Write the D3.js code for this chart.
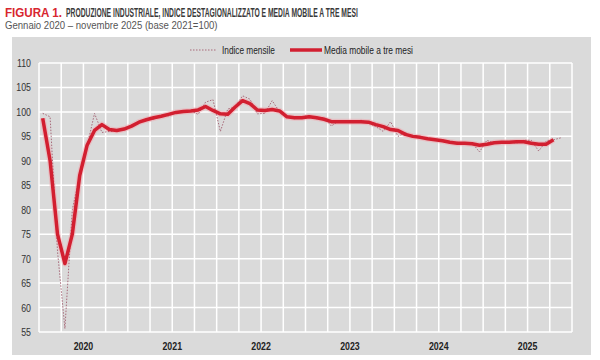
<!DOCTYPE html>
<html>
<head>
<meta charset="utf-8">
<script src="https://cdn.jsdelivr.net/npm/d3@7"></script>
<style>
  html, body { margin: 0; padding: 0; background: #ffffff; }
  svg { display: block; }
  text { font-family: "Liberation Sans", Arial, sans-serif; }
</style>
</head>
<body>
<svg id="chart" width="600" height="360"></svg>
<script>
// ---- Data ----
const years = ["2020", "2021", "2022", "2023", "2024", "2025"];
const monthsPerYear = 12;

// Indice mensile: Jan 2020 – Nov 2025
const indiceMensile = [
  99.7, 99.0, 71.5, 55.7, 80.0, 87.0, 93.0, 99.7, 95.8, 96.0, 96.0, 96.5,
  97.0, 97.6, 98.6, 98.5, 99.1, 99.2, 99.8, 100.0, 100.2, 99.5, 102.0, 102.5,
  96.0, 100.6, 101.0, 103.3, 102.6, 99.6, 99.7, 102.3, 100.0, 99.0, 98.6, 99.0,
  99.3, 98.6, 98.9, 97.1, 98.2, 98.0, 97.8, 98.3, 97.7, 97.0, 96.0, 98.0,
  95.0, 95.8, 94.8, 94.9, 94.6, 94.2, 94.3, 93.6, 93.8, 93.3, 93.7, 91.8,
  94.2, 93.6, 93.8, 93.9, 93.6, 94.2, 94.2, 92.0, 94.0, 94.3, 94.7
];

// Media mobile a tre mesi: Jan 2020 – Oct 2025
const mediaMobile = [
  98.7, 90.0, 75.0, 69.0, 75.0, 87.0, 93.2, 96.2, 97.4, 96.4, 96.2, 96.5,
  97.1, 97.9, 98.4, 98.8, 99.1, 99.5, 99.9, 100.1, 100.2, 100.4, 101.1, 100.3,
  99.6, 99.5, 101.0, 102.3, 101.7, 100.4, 100.3, 100.5, 100.2, 99.0, 98.8, 98.8,
  99.0, 98.8, 98.5, 98.0, 98.0, 98.0, 98.0, 98.0, 97.9, 97.4, 97.0, 96.4,
  96.2, 95.4, 95.0, 94.8, 94.5, 94.3, 94.1, 93.8, 93.6, 93.6, 93.5, 93.2,
  93.4, 93.7, 93.8, 93.8, 93.9, 93.9, 93.6, 93.4, 93.4, 94.3
];

const yTicks = [55, 60, 65, 70, 75, 80, 85, 90, 95, 100, 105, 110];

const titleRed = "FIGURA 1.";
const titleRest = "PRODUZIONE INDUSTRIALE, INDICE DESTAGIONALIZZATO E MEDIA MOBILE A TRE MESI";
const subtitle = "Gennaio 2020 – novembre 2025 (base 2021=100)";
const legendLabels = ["Indice mensile", "Media mobile a tre mesi"];

// ---- Helpers ----
// Places a text at (x, y) and squeezes it horizontally to the target width.
function placeScaled(sel, x, y, w) {
  const natural = sel.node().getComputedTextLength();
  sel.attr("x", 0).attr("y", 0)
    .attr("transform", `translate(${x},${y}) scale(${w / natural},1)`);
}
function condense(sel, f) {
  sel.each(function () {
    const w = this.getComputedTextLength();
    d3.select(this).attr("textLength", w * f).attr("lengthAdjust", "spacingAndGlyphs");
  });
}

// ---- Layout ----
const svg = d3.select("#chart");
const plot = { left: 39, right: 572, top: 63, bottom: 332 };

const monthKeys = years.flatMap(y => d3.range(monthsPerYear).map(m => y + "-" + (m + 1)));

const x = d3.scaleBand().domain(monthKeys).range([plot.left, plot.right]).paddingInner(0).paddingOuter(0);
const xc = k => x(k) + x.bandwidth() / 2;
const xYear = d3.scaleBand().domain(years).range([plot.left, plot.right]);
const y = d3.scaleLinear().domain([55, 110]).range([plot.bottom, plot.top]);

// Panel background
svg.append("rect")
  .attr("x", 12).attr("y", 37).attr("width", 579).attr("height", 318)
  .attr("fill", "#dadada");

// Title (two pieces)
const t1 = svg.append("text")
  .attr("font-size", 13).attr("font-weight", "bold").attr("fill", "#d8262f").text(titleRed);
placeScaled(t1, 5, 16.5, 57);
const t2 = svg.append("text")
  .attr("font-size", 13).attr("font-weight", "bold").attr("fill", "#3a3a3a").text(titleRest);
placeScaled(t2, 66, 16.5, 292);

const sub = svg.append("text")
  .attr("font-size", 11).attr("fill", "#555").text(subtitle);
placeScaled(sub, 5, 28.5, 213);

// Grid: horizontal
svg.append("g").selectAll("line").data(yTicks).join("line")
  .attr("x1", plot.left).attr("x2", plot.right)
  .attr("y1", d => y(d)).attr("y2", d => y(d))
  .attr("stroke", "#ffffff").attr("stroke-width", 1.5);

// Grid: vertical at quarter boundaries
const quarterKeys = monthKeys.filter((k, i) => i % 3 === 0);
svg.append("g").selectAll("line").data(quarterKeys).join("line")
  .attr("x1", d => x(d)).attr("x2", d => x(d))
  .attr("y1", plot.top).attr("y2", plot.bottom)
  .attr("stroke", "#ffffff").attr("stroke-width", 1.5);
svg.append("line")
  .attr("x1", plot.right).attr("x2", plot.right)
  .attr("y1", plot.top).attr("y2", plot.bottom)
  .attr("stroke", "#ffffff").attr("stroke-width", 1.5);

// Y axis
const yAxis = svg.append("g").attr("transform", `translate(${plot.left - 8},0)`)
  .call(d3.axisLeft(y).tickValues(yTicks).tickSize(0).tickPadding(0));
yAxis.select(".domain").remove();
yAxis.selectAll("text").attr("font-size", 11).attr("fill", "#333")
  .style("font-family", '"Liberation Sans", Arial, sans-serif');
condense(yAxis.selectAll("text"), 0.8);

// X axis (years)
const xAxis = svg.append("g").attr("transform", `translate(0,${plot.bottom + 8})`)
  .call(d3.axisBottom(xYear).tickSize(0).tickPadding(2));
xAxis.select(".domain").remove();
xAxis.selectAll("text").attr("font-size", 11).attr("font-weight", "bold").attr("fill", "#222")
  .style("font-family", '"Liberation Sans", Arial, sans-serif');
condense(xAxis.selectAll("text"), 0.8);

// Lines
const monthlyData = indiceMensile.map((v, i) => ({ k: monthKeys[i], v }));
const maData = mediaMobile.map((v, i) => ({ k: monthKeys[i], v }));
const line = d3.line().x(d => xc(d.k)).y(d => y(d.v));

svg.append("path").datum(maData).attr("d", line)
  .attr("fill", "none").attr("stroke", "#f0a9b0").attr("stroke-width", 6)
  .attr("stroke-opacity", 0.55).attr("stroke-linejoin", "round");

svg.append("path").datum(monthlyData).attr("d", line)
  .attr("fill", "none").attr("stroke", "#a86a7a").attr("stroke-width", 1)
  .attr("stroke-dasharray", "1.5,1.5");

svg.append("path").datum(maData).attr("d", line)
  .attr("fill", "none").attr("stroke", "#d21f30").attr("stroke-width", 3.5)
  .attr("stroke-linejoin", "round");

// Legend
const lg = svg.append("g");
lg.append("line").attr("x1", 190).attr("x2", 216).attr("y1", 50).attr("y2", 50)
  .attr("stroke", "#a86a7a").attr("stroke-width", 1).attr("stroke-dasharray", "1.5,1.5");
const l1 = lg.append("text").attr("font-size", 10.5).attr("fill", "#222").text(legendLabels[0]);
placeScaled(l1, 222, 54, 53);
lg.append("line").attr("x1", 290).attr("x2", 322).attr("y1", 50).attr("y2", 50)
  .attr("stroke", "#d21f30").attr("stroke-width", 3.5);
const l2 = lg.append("text").attr("font-size", 10.5).attr("fill", "#222").text(legendLabels[1]);
placeScaled(l2, 324, 54, 89);
</script>
</body>
</html>
